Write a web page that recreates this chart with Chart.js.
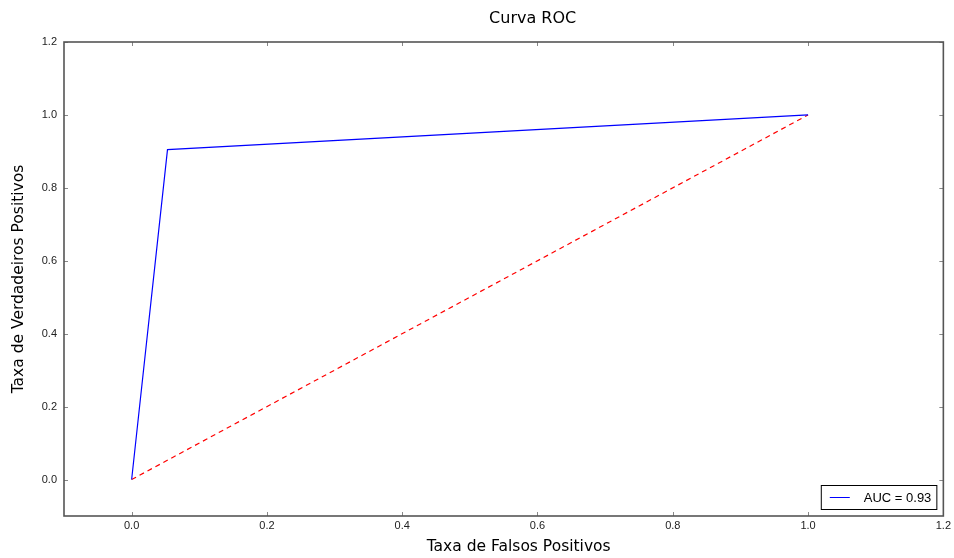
<!DOCTYPE html>
<html>
<head>
<meta charset="utf-8">
<script src="https://cdn.jsdelivr.net/npm/chart.js@4/dist/chart.umd.min.js"></script>
<style>
  html, body { margin: 0; padding: 0; background: #fff; }
  #wrap { width: 954px; height: 558px; }
</style>
</head>
<body>
<div id="wrap"><canvas id="chart-roc"></canvas></div>
<script>
// dados da curva ROC
const fpr = [0.0, 0.053, 1.0];
const tpr = [0.0, 0.905, 1.0];
const chanceX = [0.0, 1.0];
const chanceY = [0.0, 1.0];
const aucLabel = 'AUC = 0.93';
const xTicks = [0.0, 0.2, 0.4, 0.6, 0.8, 1.0, 1.2];
const yTicks = [0.0, 0.2, 0.4, 0.6, 0.8, 1.0, 1.2];
const chartTitle = 'Curva ROC';
const xTitle = 'Taxa de Falsos Positivos';
const yTitle = 'Taxa de Verdadeiros Positivos';

const chartRocContext = document.getElementById('chart-roc');

function toPoints(xs, ys) {
    return xs.map((x, i) => ({ x: x, y: ys[i] }));
}

// moldura + ticks para dentro (estilo matplotlib)
const frameTicks = {
    id: 'frameTicks',
    afterDatasetsDraw(chart) {
        const ctx = chart.ctx;
        const a = chart.chartArea;
        const xs = chart.scales.x, ys = chart.scales.y;
        const len = 4;
        ctx.save();
        ctx.strokeStyle = '#888';
        ctx.lineWidth = 1;
        ctx.beginPath();
        xs.ticks.forEach(t => {
            const px = Math.round(xs.getPixelForValue(t.value)) + 0.5;
            ctx.moveTo(px, a.bottom); ctx.lineTo(px, a.bottom - len);
            ctx.moveTo(px, a.top); ctx.lineTo(px, a.top + len);
        });
        ys.ticks.forEach(t => {
            const py = Math.round(ys.getPixelForValue(t.value)) + 0.5;
            ctx.moveTo(a.left, py); ctx.lineTo(a.left + len, py);
            ctx.moveTo(a.right, py); ctx.lineTo(a.right - len, py);
        });
        ctx.stroke();
        ctx.lineWidth = 1.6;
        ctx.strokeStyle = '#555';
        ctx.strokeRect(a.left, a.top, a.right - a.left, a.bottom - a.top);
        ctx.restore();
    }
};

// titulo e rotulo do eixo x (um pouco deslocados como no original)
const titles = {
    id: 'titles',
    afterDraw(chart) {
        const ctx = chart.ctx;
        const a = chart.chartArea;
        const cx = (a.left + a.right) / 2;
        ctx.save();
        ctx.fillStyle = '#000';
        ctx.textAlign = 'center';
        ctx.textBaseline = 'middle';
        ctx.font = '16px "DejaVu Sans", sans-serif';
        ctx.fillText(chartTitle, cx + 29, 19);
        ctx.font = '15.5px "DejaVu Sans", sans-serif';
        ctx.fillText(xTitle, cx + 15, 547);
        ctx.restore();
    }
};

// legenda dentro do grafico, canto inferior direito
const innerLegend = {
    id: 'innerLegend',
    afterDraw(chart) {
        const ctx = chart.ctx;
        const a = chart.chartArea;
        const ds = chart.data.datasets[0];
        ctx.save();
        ctx.font = '13px "Liberation Sans", Arial, sans-serif';
        const tw = ctx.measureText(ds.label).width;
        const w = tw + 48, h = 24;
        const x0 = a.right - 7 - w, y0 = a.bottom - 7 - h;
        ctx.fillStyle = '#fff';
        ctx.fillRect(x0, y0, w, h);
        ctx.strokeStyle = '#000';
        ctx.lineWidth = 1;
        ctx.strokeRect(x0 + 0.5, y0 + 0.5, w, h);
        ctx.strokeStyle = ds.borderColor;
        ctx.beginPath();
        ctx.moveTo(x0 + 9, y0 + h / 2 + 0.5);
        ctx.lineTo(x0 + 29, y0 + h / 2 + 0.5);
        ctx.stroke();
        ctx.fillStyle = '#000';
        ctx.textBaseline = 'middle';
        ctx.fillText(ds.label, x0 + 43, y0 + h / 2 + 1);
        ctx.restore();
    }
};

const tickFont = { family: '"Liberation Sans", Arial, sans-serif', size: 11 };

const configRocChart = {
    type: 'scatter',
    data: {
        datasets: [{
            label: aucLabel,
            data: toPoints(fpr, tpr),
            showLine: true,
            borderColor: 'rgb(0, 0, 255)',
            borderWidth: 1.2,
            pointRadius: 0,
            tension: 0,
        }, {
            label: 'chance',
            data: toPoints(chanceX, chanceY),
            showLine: true,
            borderColor: 'rgb(255, 0, 0)',
            borderWidth: 1.2,
            borderDash: [5, 4],
            pointRadius: 0,
            tension: 0,
        }]
    },
    options: {
        responsive: true,
        maintainAspectRatio: false,
        animation: false,
        layout: { padding: { left: 0, right: 10, top: 42, bottom: 0 } },
        plugins: {
            legend: { display: false },
            tooltip: { enabled: false },
            title: { display: false }
        },
        scales: {
            x: {
                type: 'linear',
                min: -0.1,
                max: 1.2,
                afterBuildTicks: s => { s.ticks = xTicks.map(v => ({ value: v })); },
                afterFit: s => { s.height = 42; },
                grid: { display: false, drawTicks: false },
                border: { display: false },
                ticks: {
                    color: '#222',
                    font: tickFont,
                    padding: 3,
                    maxRotation: 0,
                    callback: v => Number(v).toFixed(1)
                },
                title: { display: false, text: xTitle }
            },
            y: {
                type: 'linear',
                min: -0.1,
                max: 1.2,
                afterBuildTicks: s => { s.ticks = yTicks.map(v => ({ value: v })); },
                afterFit: s => { s.width = 64; },
                grid: { display: false, drawTicks: false },
                border: { display: false },
                ticks: {
                    color: '#222',
                    font: tickFont,
                    padding: 7,
                    callback: v => Number(v).toFixed(1)
                },
                title: {
                    display: true,
                    text: yTitle,
                    color: '#000',
                    font: { family: '"DejaVu Sans", sans-serif', size: 15.5 },
                    padding: { top: 10, bottom: 0 }
                }
            }
        }
    },
    plugins: [frameTicks, titles, innerLegend]
};

var chartRoc = new Chart(chartRocContext, configRocChart);
</script>
</body>
</html>
